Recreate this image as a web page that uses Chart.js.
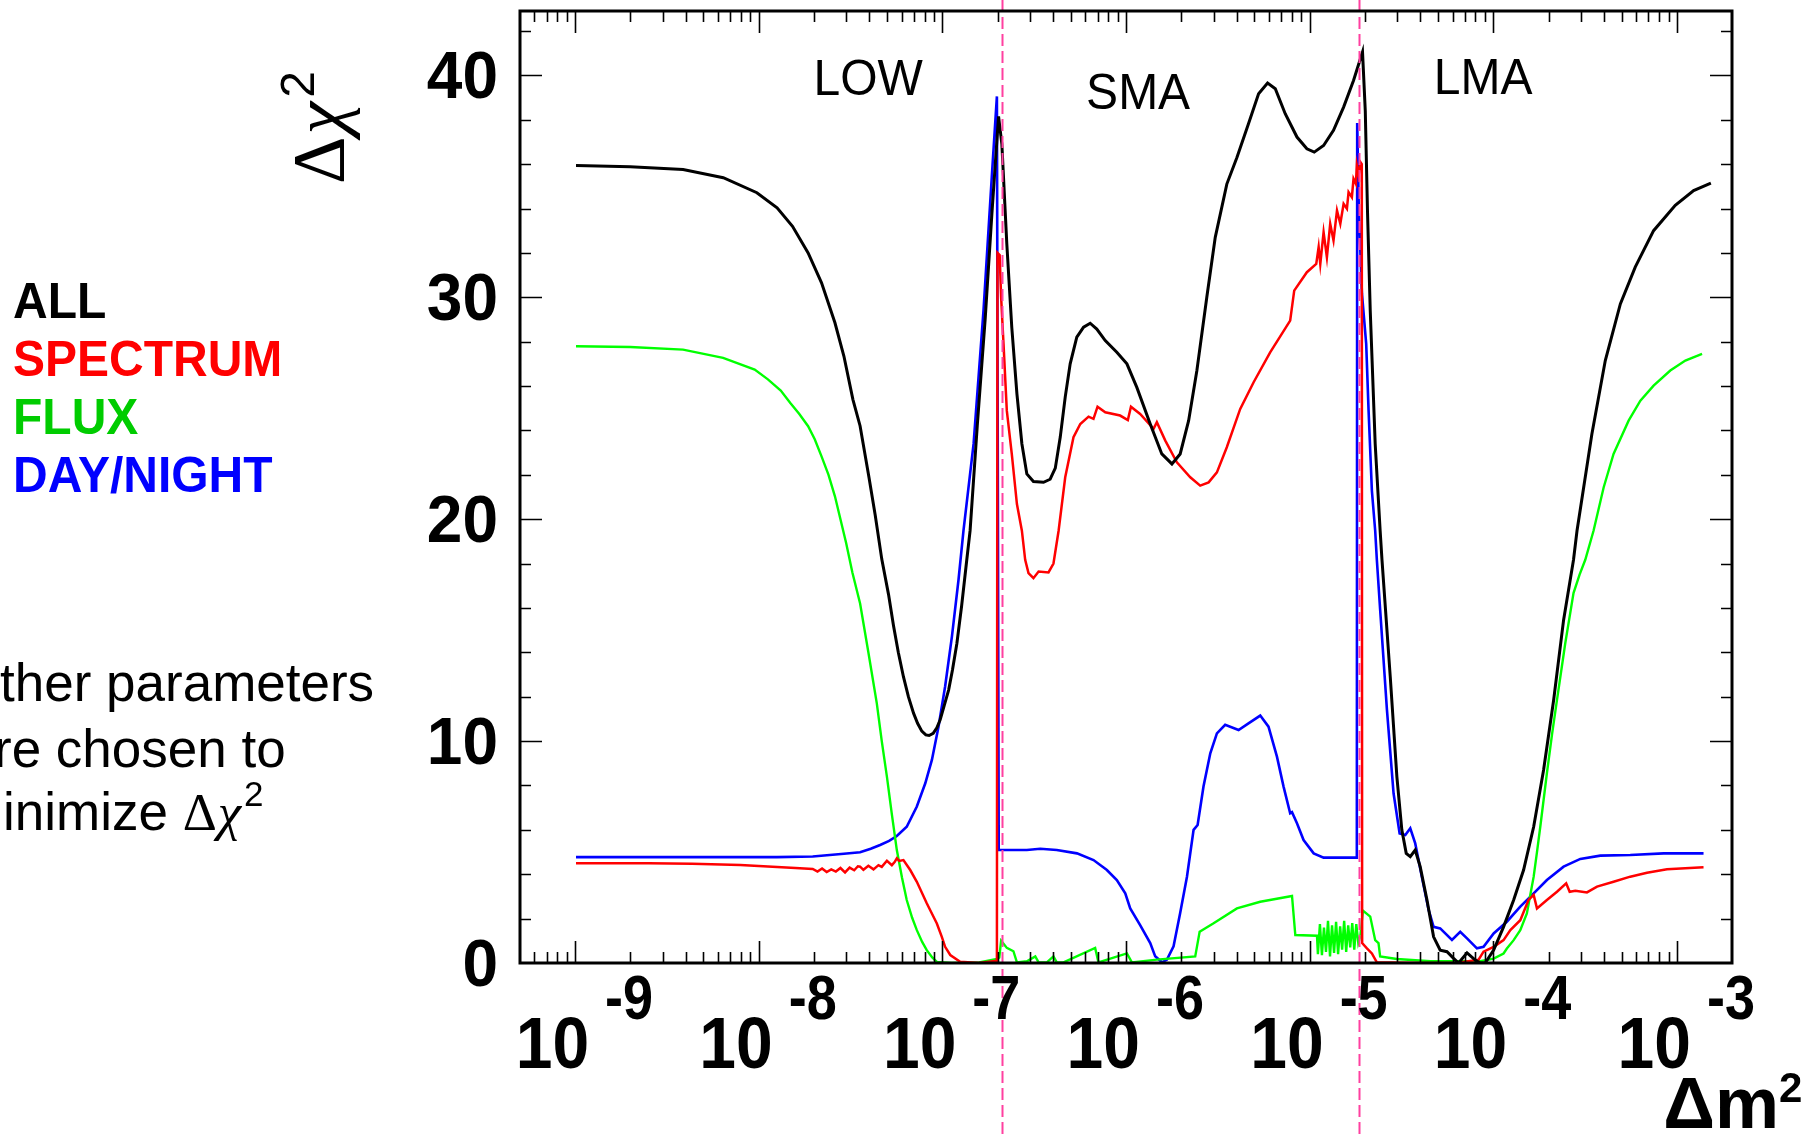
<!DOCTYPE html>
<html>
<head>
<meta charset="utf-8">
<script src="https://cdn.jsdelivr.net/npm/chart.js@4.4.1/dist/chart.umd.min.js"></script>
<style>
  html, body { margin: 0; padding: 0; background: #ffffff; }
  #wrap { width: 1808px; height: 1134px; position: relative; }
</style>
</head>
<body>
<div id="wrap"><canvas id="c" width="1808" height="1134"></canvas></div>
<script>
// Δχ² profiles versus Δm² (eV²). Each entry: [log10(Δm²), Δχ²]
const allCurve = [
  [-8.995,35.94],[-8.70,35.88],[-8.412,35.76],[-8.193,35.39],[-8.01,34.71],[-7.90,34.03],
  [-7.816,33.2],[-7.731,32.0],[-7.658,30.65],[-7.585,28.85],[-7.536,27.34],[-7.487,25.39],
  [-7.448,24.2],[-7.40,21.9],[-7.366,20.2],[-7.33,18.2],[-7.293,16.6],[-7.266,15.2],
  [-7.240,14.0],[-7.212,12.9],[-7.185,12.0],[-7.157,11.26],[-7.135,10.8],[-7.112,10.45],
  [-7.09,10.28],[-7.072,10.25],[-7.05,10.35],[-7.03,10.6],[-7.012,10.96],[-6.99,11.6],
  [-6.966,12.3],[-6.945,13.2],[-6.921,14.4],[-6.895,16.1],[-6.867,18.17],[-6.849,19.48],
  [-6.81,24.2],[-6.767,29.0],[-6.73,33.8],[-6.694,38.15],[-6.676,36.9],[-6.649,32.4],
  [-6.622,28.65],[-6.594,25.65],[-6.567,23.4],[-6.540,22.04],[-6.504,21.7],[-6.449,21.66],
  [-6.413,21.8],[-6.385,22.3],[-6.358,23.7],[-6.331,25.5],[-6.304,27.0],[-6.268,28.2],
  [-6.231,28.65],[-6.195,28.83],[-6.159,28.57],[-6.113,28.05],[-6.050,27.52],[-5.995,27.0],
  [-5.941,25.94],[-5.868,24.29],[-5.805,22.94],[-5.750,22.49],[-5.705,22.94],[-5.659,24.44],
  [-5.614,26.7],[-5.560,30.0],[-5.514,32.7],[-5.451,35.1],[-5.396,36.3],[-5.333,37.82],
  [-5.278,39.17],[-5.229,39.65],[-5.187,39.4],[-5.133,38.27],[-5.069,37.22],[-5.015,36.69],
  [-4.975,36.54],[-4.924,36.84],[-4.870,37.52],[-4.815,38.57],[-4.761,39.77],[-4.712,41.05],
  [-4.697,38.4],[-4.685,33.9],[-4.670,29.4],[-4.643,23.39],[-4.616,19.48],[-4.606,18.17],
  [-4.561,12.9],[-4.525,8.4],[-4.498,6.0],[-4.474,4.94],[-4.452,4.79],[-4.425,5.09],
  [-4.398,4.34],[-4.361,2.84],[-4.325,1.18],[-4.289,0.58],[-4.252,0.51],[-4.216,0.21],
  [-4.189,0.0],[-4.143,0.46],[-4.098,0.13],[-4.071,0.0],[-4.044,0.0],[-3.998,0.58],
  [-3.944,1.63],[-3.889,2.84],[-3.835,4.19],[-3.780,6.14],[-3.726,8.7],[-3.671,11.86],
  [-3.617,15.46],[-3.563,18.17],[-3.544,19.48],[-3.463,23.84],[-3.390,27.15],[-3.308,29.7],
  [-3.227,31.36],[-3.127,33.0],[-3.009,34.14],[-2.909,34.81],[-2.815,35.14]
];

const spectrumCurve = [
  [-8.995,4.50],[-8.6,4.49],[-8.363,4.47],[-8.1,4.42],[-7.95,4.35],[-7.80,4.28],[-7.706,4.24],
  [-7.68,4.12],[-7.655,4.26],[-7.63,4.10],[-7.605,4.22],[-7.58,4.12],[-7.555,4.28],[-7.53,4.08],
  [-7.505,4.30],[-7.48,4.18],[-7.46,4.36],[-7.448,4.34],[-7.43,4.20],[-7.403,4.38],[-7.375,4.22],
  [-7.348,4.41],[-7.33,4.33],[-7.302,4.61],[-7.275,4.41],[-7.26,4.55],[-7.248,4.72],[-7.235,4.60],
  [-7.212,4.64],[-7.175,4.19],[-7.139,3.66],[-7.085,2.69],[-7.030,1.78],[-7.003,1.18],
  [-6.985,0.73],[-6.957,0.36],[-6.903,0.06],[-6.80,0.0],[-6.703,0.1],[-6.700,32.0],
  [-6.688,31.9],[-6.680,30.0],[-6.667,27.9],[-6.649,24.89],[-6.622,22.94],[-6.594,20.68],
  [-6.567,19.48],[-6.549,18.17],[-6.531,17.57],[-6.504,17.34],[-6.476,17.64],[-6.422,17.6],
  [-6.395,18.0],[-6.367,19.48],[-6.331,21.89],[-6.286,23.69],[-6.249,24.29],[-6.204,24.62],
  [-6.177,24.52],[-6.155,25.07],[-6.113,24.82],[-6.032,24.67],[-5.990,24.47],[-5.973,25.07],
  [-5.923,24.74],[-5.850,24.07],[-5.832,24.37],[-5.786,23.54],[-5.723,22.56],[-5.650,21.89],
  [-5.596,21.51],[-5.550,21.66],[-5.505,22.11],[-5.451,23.24],[-5.378,24.97],[-5.305,26.17],
  [-5.215,27.52],[-5.106,28.95],[-5.084,30.3],[-5.015,31.13],[-4.964,31.5],[-4.951,32.26],
  [-4.942,31.5],[-4.924,32.93],[-4.906,31.8],[-4.888,33.31],[-4.870,32.56],[-4.851,33.91],
  [-4.833,33.31],[-4.815,34.21],[-4.797,33.99],[-4.788,34.74],[-4.770,34.51],[-4.761,35.34],
  [-4.748,35.11],[-4.743,35.94],[-4.733,35.5],[-4.724,36.1],[-4.716,36.0],[-4.714,0.9],
  [-4.688,0.66],[-4.661,0.43],[-4.634,0.03],[-4.40,0.0],[-4.20,0.0],[-4.080,0.15],
  [-4.053,0.51],[-3.998,0.73],[-3.944,1.03],[-3.907,1.48],[-3.853,1.93],[-3.808,2.84],
  [-3.780,3.07],[-3.762,2.46],[-3.708,2.84],[-3.653,3.21],[-3.603,3.59],[-3.584,3.21],
  [-3.553,3.26],[-3.490,3.18],[-3.435,3.44],[-3.345,3.66],[-3.254,3.89],[-3.163,4.07],
  [-3.054,4.22],[-2.855,4.31]
];

const fluxCurve = [
  [-8.995,27.79],[-8.70,27.76],[-8.412,27.64],[-8.194,27.27],[-8.022,26.74],[-7.95,26.3],
  [-7.88,25.8],[-7.828,25.24],[-7.78,24.75],[-7.731,24.19],[-7.695,23.6],[-7.658,22.83],
  [-7.62,22.0],[-7.585,21.03],[-7.555,20.0],[-7.524,18.93],[-7.49,17.6],[-7.448,16.2],
  [-7.403,14.0],[-7.357,11.7],[-7.33,10.0],[-7.302,8.4],[-7.275,6.7],[-7.248,5.09],
  [-7.22,3.85],[-7.194,2.84],[-7.165,2.05],[-7.139,1.48],[-7.11,0.95],[-7.085,0.58],
  [-7.055,0.25],[-7.030,0.05],[-6.95,0.0],[-6.80,0.03],[-6.703,0.18],[-6.690,0.25],
  [-6.680,1.0],[-6.670,0.9],[-6.649,0.68],[-6.613,0.53],[-6.594,0.03],[-6.540,0.08],
  [-6.494,0.3],[-6.476,0.03],[-6.431,0.03],[-6.395,0.3],[-6.377,0.03],[-6.340,0.03],
  [-6.168,0.68],[-6.150,0.03],[-5.995,0.43],[-5.968,0.03],[-5.832,0.15],[-5.623,0.3],
  [-5.599,1.41],[-5.523,1.79],[-5.396,2.46],[-5.269,2.76],[-5.096,3.02],[-5.078,1.26],
  [-4.960,1.23],[-4.955,0.4],[-4.944,1.75],[-4.933,0.35],[-4.922,1.6],[-4.911,0.5],
  [-4.900,1.9],[-4.889,0.3],[-4.878,1.7],[-4.867,0.45],[-4.856,1.85],[-4.845,0.4],
  [-4.834,1.65],[-4.823,0.6],[-4.812,1.9],[-4.801,0.5],[-4.790,1.7],[-4.779,0.7],
  [-4.768,1.8],[-4.757,0.6],[-4.746,1.75],[-4.735,0.9],[-4.724,1.2],[-4.710,2.36],
  [-4.670,2.09],[-4.643,1.03],[-4.625,0.9],[-4.616,0.3],[-4.525,0.18],[-4.343,0.08],
  [-4.071,0.08],[-3.998,0.2],[-3.944,0.43],[-3.926,0.65],[-3.889,1.03],[-3.853,1.48],
  [-3.817,2.23],[-3.80,3.0],[-3.780,3.89],[-3.762,5.0],[-3.744,6.14],[-3.708,8.55],
  [-3.68,10.3],[-3.653,11.86],[-3.608,14.41],[-3.563,16.67],[-3.53,17.5],[-3.499,18.17],
  [-3.454,19.48],[-3.399,21.43],[-3.345,22.94],[-3.263,24.44],[-3.199,25.34],[-3.127,26.02],
  [-3.036,26.7],[-2.954,27.15],[-2.863,27.45]
];

const dayNightCurve = [
  [-8.995,4.77],[-8.4,4.77],[-7.901,4.77],[-7.706,4.80],[-7.536,4.92],[-7.448,4.99],
  [-7.39,5.15],[-7.339,5.32],[-7.29,5.5],[-7.248,5.72],[-7.194,6.14],[-7.139,7.05],
  [-7.093,8.1],[-7.057,9.15],[-7.021,10.65],[-6.985,12.46],[-6.948,14.71],[-6.912,17.27],
  [-6.885,19.48],[-6.830,23.39],[-6.776,29.4],[-6.731,35.4],[-6.703,39.05],[-6.693,5.09],
  [-6.540,5.09],[-6.467,5.15],[-6.377,5.09],[-6.267,4.94],[-6.177,4.64],[-6.104,4.19],
  [-6.050,3.74],[-6.004,3.14],[-5.977,2.46],[-5.923,1.71],[-5.868,0.9],[-5.841,0.3],
  [-5.804,0.03],[-5.777,0.15],[-5.741,0.75],[-5.705,2.25],[-5.668,3.89],[-5.632,6.0],
  [-5.610,6.22],[-5.578,7.95],[-5.541,9.45],[-5.505,10.35],[-5.460,10.73],[-5.387,10.5],
  [-5.333,10.8],[-5.269,11.15],[-5.224,10.65],[-5.178,9.3],[-5.142,7.95],[-5.106,6.75],
  [-5.096,6.8],[-5.069,6.3],[-5.033,5.54],[-4.978,4.94],[-4.924,4.75],[-4.743,4.75],
  [-4.741,37.85],[-4.732,33.9],[-4.715,30.15],[-4.692,27.9],[-4.679,24.89],[-4.661,21.28],
  [-4.643,19.48],[-4.634,18.17],[-4.616,15.92],[-4.579,11.41],[-4.543,7.65],[-4.510,5.84],
  [-4.479,5.77],[-4.452,6.07],[-4.425,5.39],[-4.389,3.89],[-4.352,2.39],[-4.325,1.63],
  [-4.289,1.56],[-4.225,1.04],[-4.180,1.41],[-4.143,1.11],[-4.089,0.66],[-4.053,0.73],
  [-3.998,1.33],[-3.926,1.86],[-3.853,2.54],[-3.780,3.14],[-3.708,3.74],[-3.617,4.34],
  [-3.526,4.69],[-3.417,4.84],[-3.254,4.87],[-3.072,4.94],[-2.855,4.94]
];

// Boundaries between the LOW / SMA / LMA solution regions (Δm², eV²)
const regionEdgesDm2 = [2.1e-7, 1.86e-5];
const regionNames = ['LOW', 'SMA', 'LMA'];

// Axis ticks
const decadeExponents = [-9, -8, -7, -6, -5, -4, -3];
const chi2TickLabels = [0, 10, 20, 30, 40];

const seriesNames = ['ALL', 'SPECTRUM', 'FLUX', 'DAY/NIGHT'];
const noteLines = ['ther parameters', 're chosen to', 'inimize '];

// ---------------------------------------------------------------------------

const toPoints = curve => curve.map(([lg, chi2]) => ({ x: Math.pow(10, lg), y: chi2 }));

const SANS = '"Liberation Sans", Arial, Helvetica, sans-serif';
const SERIF = '"Liberation Serif", "Times New Roman", serif';

const lineColors = ['#000000', '#ff0000', '#00ff00', '#0000ff'];
const legendColors = ['#000000', '#ff0000', '#00cc00', '#0000ff'];

// draws text stretched vertically about its baseline
function tallText(ctx, text, px, py, sy) {
  ctx.save();
  ctx.translate(px, py);
  ctx.scale(1, sy);
  ctx.fillText(text, 0, 0);
  ctx.restore();
}

const frameAndLabels = {
  id: 'frameAndLabels',
  afterDatasetsDraw(chart) {
    const { ctx, chartArea: a, scales: { x, y } } = chart;
    ctx.save();

    // region boundaries: dashed, across the full height of the page
    ctx.strokeStyle = '#ff40a0';
    ctx.lineWidth = 2;
    ctx.setLineDash([12, 5]);
    regionEdgesDm2.forEach(v => {
      const px = Math.round(x.getPixelForValue(v)) + 0.5;
      ctx.beginPath();
      ctx.moveTo(px, 0);
      ctx.lineTo(px, chart.height);
      ctx.stroke();
    });
    ctx.setLineDash([]);

    // frame
    ctx.strokeStyle = '#000';
    ctx.lineWidth = 3;
    ctx.strokeRect(a.left, a.top, a.right - a.left, a.bottom - a.top);

    // x ticks (log), inward on bottom and top
    ctx.lineWidth = 1.6;
    const [xmin, xmax] = [x.min, x.max];
    for (let e = -10; e <= -3; e++) {
      for (let k = 1; k <= 9; k++) {
        const v = k * Math.pow(10, e);
        if (v <= xmin * 1.001 || v >= xmax * 0.999) continue;
        const px = Math.round(x.getPixelForValue(v)) + 0.5;
        const len = k === 1 ? 22 : 11;
        ctx.beginPath();
        ctx.moveTo(px, a.bottom); ctx.lineTo(px, a.bottom - len);
        ctx.moveTo(px, a.top); ctx.lineTo(px, a.top + len);
        ctx.stroke();
      }
    }
    // y ticks, inward on left and right
    for (let v = 2; v < y.max; v += 2) {
      const py = Math.round(y.getPixelForValue(v)) + 0.5;
      const len = v % 10 === 0 ? 22 : 11;
      ctx.beginPath();
      ctx.moveTo(a.left, py); ctx.lineTo(a.left + len, py);
      ctx.moveTo(a.right, py); ctx.lineTo(a.right - len, py);
      ctx.stroke();
    }
    ctx.restore();
  },
  afterDraw(chart) {
    const { ctx, chartArea: a, scales: { x, y } } = chart;
    ctx.save();
    ctx.fillStyle = '#000';
    ctx.textBaseline = 'alphabetic';

    // y tick labels
    ctx.font = 'bold 64px ' + SANS;
    ctx.textAlign = 'right';
    chi2TickLabels.forEach(v => {
      tallText(ctx, String(v), a.left - 22, y.getPixelForValue(v) + 23, 1.03);
    });

    // x tick labels: 10 with a raised exponent
    decadeExponents.forEach(e => {
      const px = x.getPixelForValue(Math.pow(10, e));
      ctx.font = 'bold 66px ' + SANS;
      ctx.textAlign = 'right';
      tallText(ctx, '10', px + 14, 1068, 1.1);
      ctx.font = 'bold 54px ' + SANS;
      ctx.textAlign = 'left';
      tallText(ctx, String(e), px + 30, 1019, 1.15);
    });

    // x axis title Δm²
    ctx.font = 'bold 72px ' + SANS;
    ctx.textAlign = 'right';
    ctx.fillText('\u0394m', 1779, 1128);
    ctx.font = 'bold 42px ' + SANS;
    ctx.textAlign = 'left';
    ctx.fillText('2', 1779, 1102);

    // y axis title Δχ², rotated
    ctx.save();
    ctx.translate(344, 184);
    ctx.rotate(-Math.PI / 2);
    ctx.textAlign = 'left';
    ctx.font = '74px ' + SERIF;
    ctx.fillText('\u0394', 0, 0);
    let w = ctx.measureText('\u0394').width;
    ctx.font = 'italic 74px ' + SERIF;
    ctx.fillText('\u03c7', w + 2, 0);
    w += 2 + ctx.measureText('\u03c7').width;
    ctx.font = '48px ' + SANS;
    ctx.fillText('2', w + 4, -30);
    ctx.restore();

    // region names
    const regionAnchors = [[-7.404, 39.12], [-5.934, 38.49], [-4.055, 39.16]];
    ctx.font = '48px ' + SANS;
    ctx.textAlign = 'center';
    regionNames.forEach((name, i) => {
      const [lg, v] = regionAnchors[i];
      tallText(ctx, name, x.getPixelForValue(Math.pow(10, lg)), y.getPixelForValue(v), 1.05);
    });

    // series key
    ctx.font = 'bold 48px ' + SANS;
    ctx.textAlign = 'left';
    seriesNames.forEach((name, i) => {
      ctx.fillStyle = legendColors[i];
      tallText(ctx, name, 13, 318 + i * 58, 1.04);
    });

    // note on the fit
    ctx.fillStyle = '#000';
    ctx.font = '53px ' + SANS;
    ctx.fillText(noteLines[0], 0, 701);
    ctx.fillText(noteLines[1], -6, 767);
    ctx.fillText(noteLines[2], 3, 830);
    let nx = 3 + ctx.measureText(noteLines[2]).width;
    ctx.font = '53px ' + SERIF;
    ctx.fillText('\u0394', nx, 830);
    nx += ctx.measureText('\u0394').width;
    ctx.font = 'italic 53px ' + SERIF;
    ctx.fillText('\u03c7', nx + 1, 830);
    nx += 1 + ctx.measureText('\u03c7').width;
    ctx.font = '35px ' + SANS;
    ctx.fillText('2', nx + 3, 806);

    ctx.restore();
  }
};

const curves = [allCurve, spectrumCurve, fluxCurve, dayNightCurve];
const widths = [3, 2.5, 2.4, 2.6];

new Chart(document.getElementById('c'), {
  type: 'line',
  data: {
    datasets: curves.map((c, i) => ({
      label: seriesNames[i],
      data: toPoints(c),
      borderColor: lineColors[i],
      borderWidth: widths[i],
      pointRadius: 0,
      tension: 0,
      fill: false
    }))
  },
  options: {
    responsive: false,
    devicePixelRatio: 1,
    animation: false,
    events: [],
    layout: { padding: { left: 520, top: 11, right: 76, bottom: 171 } },
    plugins: { legend: { display: false }, tooltip: { enabled: false }, title: { display: false } },
    scales: {
      x: { type: 'logarithmic', min: Math.pow(10, -9.3), max: Math.pow(10, -2.7), display: false },
      y: { type: 'linear', min: 0, max: 42.9, display: false }
    }
  },
  plugins: [frameAndLabels]
});
</script>
</body>
</html>
